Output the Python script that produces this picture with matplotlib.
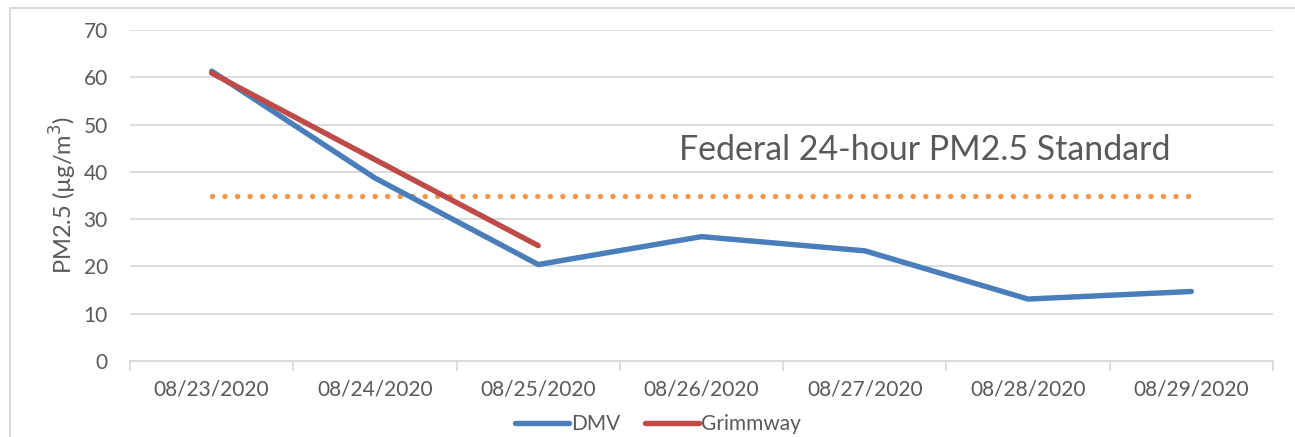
import matplotlib.pyplot as plt
import numpy as np
from matplotlib.patches import Rectangle

dates = ["08/23/2020", "08/24/2020", "08/25/2020", "08/26/2020",
         "08/27/2020", "08/28/2020", "08/29/2020"]
dmv = [61.3, 38.7, 20.4, 26.3, 23.3, 13.1, 14.7]
grimmway = [60.9, 42.6, 24.4]
standard = 35

plt.rcParams['font.family'] = ['Lato', 'DejaVu Sans']
gray = '#595959'
grid = '#d9d9d9'

fig = plt.figure(figsize=(12.95, 4.37), dpi=100)
ax = fig.add_axes([130 / 1295, 1 - 361 / 437, 1143 / 1295, 331 / 437])

x = np.arange(len(dates))
ax.plot(x, [standard] * len(dates), color='#F79646', lw=3.9,
        linestyle=(0, (0.01, 2.3)), dash_capstyle='round', zorder=2)
ax.plot(x, dmv, color='#4A7EBB', lw=3.9, solid_capstyle='round', label='DMV', zorder=3)
ax.plot(x[:len(grimmway)], grimmway, color='#BE4B48', lw=3.9,
        solid_capstyle='round', label='Grimmway', zorder=4)

ax.text(2.86, 44.6, "Federal 24-hour PM2.5 Standard", fontsize=24.4,
        color=gray, va='center', ha='left')

ax.set_xlim(-0.5, len(dates) - 0.5)
ax.set_ylim(0, 70)
ax.set_yticks(range(0, 71, 10))
ax.set_xticks(x)
ax.set_xticklabels(dates)
ax.set_xticks(np.arange(-0.5, len(dates), 1), minor=True)
ax.tick_params(axis='x', which='major', length=0, pad=13, labelsize=15, labelcolor=gray)
ax.tick_params(axis='x', which='minor', length=7, color=grid, width=1.3)
ax.tick_params(axis='y', length=0, pad=16, labelsize=15, labelcolor=gray)
ax.grid(axis='y', color=grid, lw=1.3)
ax.set_axisbelow(True)
for s in ['top', 'right', 'left']:
    ax.spines[s].set_visible(False)
ax.spines['bottom'].set_color(grid)
ax.spines['bottom'].set_linewidth(1.3)
ax.set_ylabel("PM2.5 (µg/m$^3$)", fontsize=17, color=gray, labelpad=3)

fig.legend(loc='center', bbox_to_anchor=(658 / 1295, 1 - 424 / 437), ncol=2,
           frameon=False, fontsize=15, labelcolor=gray, handlelength=2.6,
           handletextpad=0.1, columnspacing=1.2, borderpad=0)

fig.patches.append(Rectangle((10 / 1295, -0.1), 1.2, 1 - 8 / 437 + 0.1,
                             transform=fig.transFigure, fill=False,
                             edgecolor=grid, lw=1.5))

fig.savefig("out.png", dpi=100)
